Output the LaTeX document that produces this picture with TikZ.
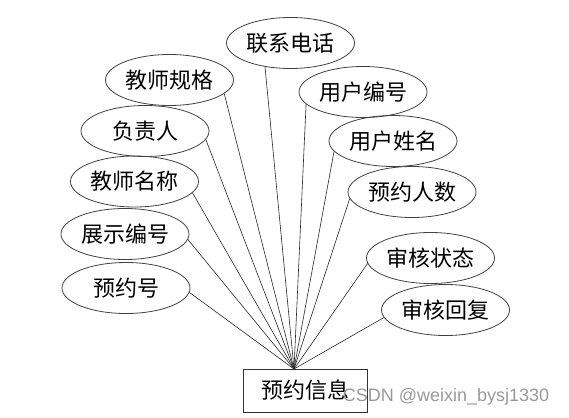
\documentclass[tikz,border=0pt]{standalone}
\usepackage{fontspec}
\newfontfamily\cjk{Noto Sans CJK SC}
\setsansfont{Liberation Sans}
\usetikzlibrary{shapes.geometric}
\tikzset{
  attr/.style={ellipse, draw=black!75, line width=0.8pt, minimum width=128pt, minimum height=51pt, inner sep=0pt, font=\cjk\fontsize{22}{24}\selectfont},
  ent/.style={rectangle, draw=black!80, line width=0.8pt, minimum width=124pt, minimum height=43pt, inner sep=0pt, font=\cjk\fontsize{22}{24}\selectfont},
  link/.style={draw=black!85, line width=0.6pt}
}
\begin{document}
\begin{tikzpicture}[x=1pt,y=-1pt]
\useasboundingbox (0,0) rectangle (569,417);
\node[ent] (e) at (305,390.5) {预约信息};
\coordinate (hub) at (294,369);
\node[attr] (a1) at (290.5,43) {联系电话};
\node[attr] (a2) at (169.5,80) {教师规格};
\node[attr] (a3) at (363,92) {用户编号};
\node[attr] (a4) at (145,131) {负责人};
\node[attr] (a5) at (393,141) {用户姓名};
\node[attr] (a6) at (134.5,181.5) {教师名称};
\node[attr] (a7) at (412,192) {预约人数};
\node[attr] (a8) at (125,234) {展示编号};
\node[attr] (a9) at (126,288) {预约号};
\node[attr] (a10) at (430.5,258) {审核状态};
\node[attr] (a11) at (445.5,310) {审核回复};
\draw[link] (a1.-137.8) -- (hub);
\draw[link] (a2.-14.2) -- (hub);
\draw[link] (a3.-168.3) -- (hub);
\draw[link] (a4.-8.4) -- (hub);
\draw[link] (a5.-170.4) -- (hub);
\draw[link] (a6.-11.3) -- (hub);
\draw[link] (a7.-174.5) -- (hub);
\draw[link] (a8.-5.3) -- (hub);
\draw[link] (a9.-4.5) -- (hub);
\draw[link] (a10.-175.5) -- (hub);
\draw[link] (a11.-173.6) -- (hub);
\node[font=\sffamily\fontsize{18}{20}\selectfont, text=black!40, anchor=center] (wm) at (446,397) {CSDN @weixin\_bysj1330};
\end{tikzpicture}
\end{document}
